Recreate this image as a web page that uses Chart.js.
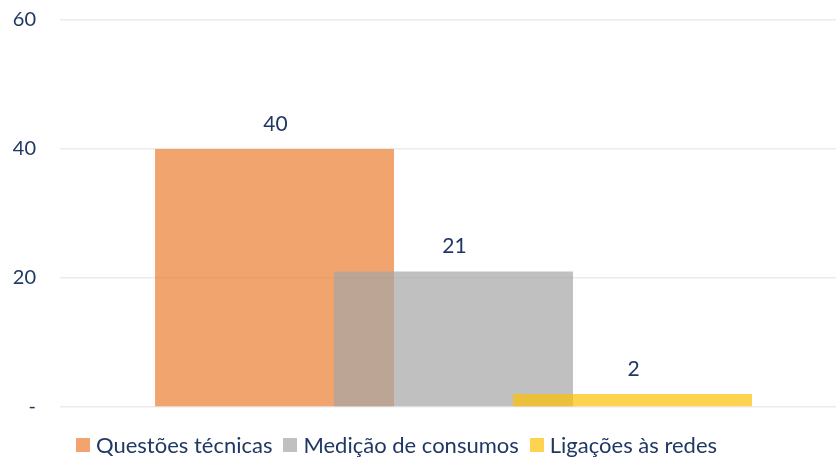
<!DOCTYPE html>
<html>
<head>
<meta charset="utf-8">
<script src="https://cdn.jsdelivr.net/npm/chart.js@4/dist/chart.umd.min.js"></script>
<style>
  html, body { margin: 0; padding: 0; background: #fff; }
  .wrap { position: relative; width: 836px; height: 457px; }
  #legend { position: absolute; left: 76px; top: 431px; display: flex; align-items: center; font-family: Lato, sans-serif; font-size: 22px; color: #1f3864; white-space: nowrap; }
  #legend .item { display: flex; align-items: center; margin-right: 11px; }
  #legend .box { width: 14px; height: 14px; margin-right: 6px; }
</style>
</head>
<body>
<div class="wrap">
  <canvas id="chart" width="836" height="457"></canvas>
  <div id="legend"></div>
</div>
<script>
// Data
const seriesNames = ['Questões técnicas', 'Medição de consumos', 'Ligações às redes'];
const seriesValues = [40, 21, 2];
const yTicks = [0, 20, 40, 60];

const seriesColors = ['rgba(237,125,49,0.7)', 'rgba(165,165,165,0.7)', 'rgba(252,192,4,0.7)'];
const textColor = '#1f3864';
const font = 'Lato, sans-serif';

// Value labels above bars
const valueLabels = {
  id: 'valueLabels',
  afterDatasetsDraw(chart) {
    const ctx = chart.ctx;
    ctx.save();
    ctx.font = '21px ' + font;
    ctx.fillStyle = textColor;
    ctx.textAlign = 'center';
    ctx.textBaseline = 'middle';
    chart.data.datasets.forEach((ds, i) => {
      chart.getDatasetMeta(i).data.forEach((bar, j) => {
        ctx.fillText(ds.data[j].y, bar.x + 1, bar.y - 25);
      });
    });
    ctx.restore();
  }
};

// one dataset per series, overlapping bars (later series on top)
const chart = new Chart(document.getElementById('chart'), {
  type: 'bar',
  data: {
    datasets: seriesNames.map((name, i) => ({
      label: name,
      data: [{ x: i + 1, y: seriesValues[i] }],
      backgroundColor: seriesColors[i],
      borderWidth: 0,
      grouped: false,
      order: seriesNames.length - i,
      categoryPercentage: 1,
      barPercentage: 1.335
    }))
  },
  options: {
    responsive: false,
    animation: false,
    layout: { padding: { top: 20, bottom: 50, right: 0, left: 0 } },
    plugins: { legend: { display: false }, tooltip: { enabled: false } },
    scales: {
      x: {
        type: 'linear',
        display: false,
        offset: false,
        min: -0.137,
        max: 4.137,
        afterBuildTicks: s => { s.ticks = seriesNames.map((_, i) => ({ value: i + 1 })); }
      },
      y: {
        min: yTicks[0],
        max: yTicks[yTicks.length - 1],
        afterBuildTicks: s => { s.ticks = yTicks.map(v => ({ value: v })); },
        afterFit: s => { s.width = 71; s.paddingTop = 0; s.paddingBottom = 0; },
        border: { display: false },
        grid: { color: '#ebebeb', lineWidth: 1.5, drawTicks: true, tickLength: 11 },
        ticks: {
          padding: 24,
          color: textColor,
          font: { family: font, size: 20 },
          callback: v => v === 0 ? '-' : v
        }
      }
    }
  },
  plugins: [valueLabels]
});

// HTML legend
const legendEl = document.getElementById('legend');
seriesNames.forEach((name, i) => {
  const item = document.createElement('div');
  item.className = 'item';
  item.innerHTML = '<span class="box" style="background:' + seriesColors[i] + '"></span><span>' + name + '</span>';
  legendEl.appendChild(item);
});
</script>
</body>
</html>
